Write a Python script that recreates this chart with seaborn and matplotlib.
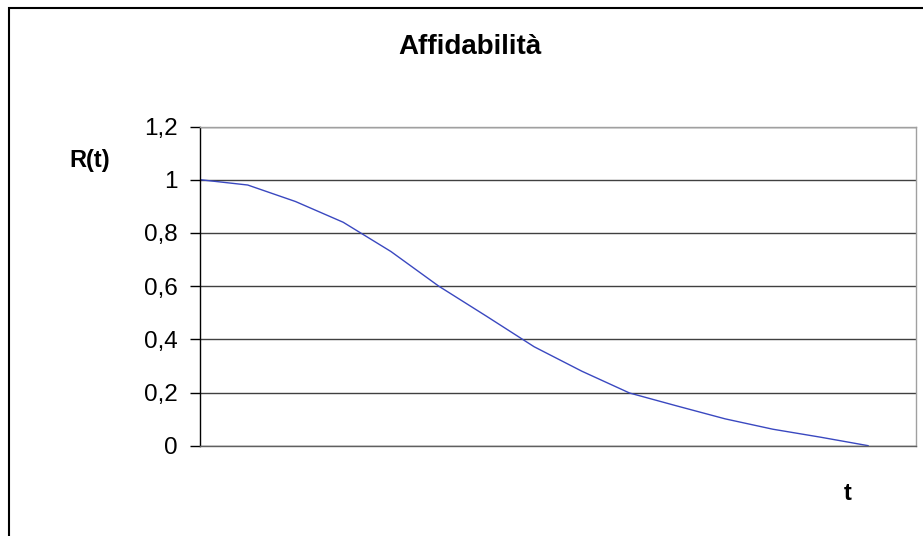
import matplotlib
matplotlib.use("Agg")
import matplotlib.pyplot as plt
from matplotlib.patches import Rectangle
import seaborn as sns
import pandas as pd

# Reliability curve R(t) sampled at integer times
t_values = [0, 1, 2, 3, 4, 5, 6, 7, 8, 9, 10, 11, 12, 13, 14]
r_values = [1.0, 0.98, 0.918, 0.84, 0.73, 0.60, 0.487, 0.372, 0.28,
            0.198, 0.149, 0.101, 0.062, 0.032, 0.0]
y_ticks = [0, 0.2, 0.4, 0.6, 0.8, 1.0, 1.2]
y_tick_labels = ["0", "0,2", "0,4", "0,6", "0,8", "1", "1,2"]

sns.set_theme(style="white")
plt.rcParams["font.family"] = ["Liberation Sans", "DejaVu Sans"]
plt.rcParams["text.color"] = "black"
plt.rcParams["ytick.color"] = "black"
plt.rcParams["ytick.labelcolor"] = "black"

W, H = 923, 536
fig = plt.figure(figsize=(W / 100, H / 100), dpi=100)
fig.patch.set_facecolor("white")

# plot area in pixel coordinates
left, right, top, bottom = 200, 916, 126.5, 445.7
ax = fig.add_axes([left / W, 1 - bottom / H, (right - left) / W, (bottom - top) / H])

df = pd.DataFrame({"t": t_values, "R": r_values})
sns.lineplot(data=df, x="t", y="R", ax=ax, color="#3a48c0", linewidth=1.0)

ax.set_xlim(0, 15)
ax.set_ylim(0, 1.2)
ax.set_yticks(y_ticks)
ax.set_yticklabels(y_tick_labels, fontsize=17.5, color="black")
ax.set_xticks([])
ax.set_xlabel("")
ax.set_ylabel("")

ax.grid(axis="y", color="#404040", linewidth=1.0)
ax.set_axisbelow(True)
ax.tick_params(axis="y", which="major", direction="out", length=7, width=1,
               color="black", pad=9, left=True)

for side in ["top", "right"]:
    ax.spines[side].set_color("#a0a0a0")
    ax.spines[side].set_linewidth(1.0)
ax.spines["bottom"].set_color("#606060")
ax.spines["bottom"].set_linewidth(1.0)
ax.spines["left"].set_color("black")
ax.spines["left"].set_linewidth(1.0)

# titles and axis captions
fig.text(470 / W, 1 - 47 / H, "Affidabilità", ha="center", va="center",
         fontsize=20, fontweight="bold", color="black")
fig.text(90 / W, 1 - 160 / H, "R(t)", ha="center", va="center",
         fontsize=17, fontweight="bold", color="black")
fig.text(848 / W, 1 - 493 / H, "t", ha="center", va="center",
         fontsize=17, fontweight="bold", color="black")

# outer chart frame
fig.patches.append(Rectangle((8.5 / W, -0.05), 1.0, 1 - 7.5 / H + 0.05,
                             transform=fig.transFigure, fill=False,
                             edgecolor="black", linewidth=1.5))

fig.savefig("out.png", dpi=100, facecolor="white")
